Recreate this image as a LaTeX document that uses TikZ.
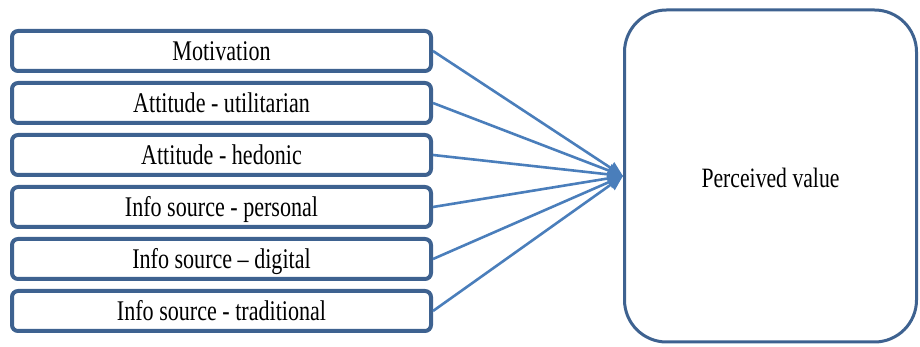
\documentclass[tikz,border=0pt]{standalone}
\usepackage{fontspec}
\setmainfont{Liberation Serif}[FakeStretch=0.775]
\usetikzlibrary{arrows.meta}
\definecolor{boxblue}{HTML}{3E6290}
\definecolor{linkblue}{HTML}{4A7EBB}
\tikzset{
  factor/.style={draw=boxblue, line width=4pt, rounded corners=6pt, fill=white,
    minimum width=419pt, minimum height=40pt, inner sep=0pt,
    text height=19pt, text depth=0pt,
    font=\fontsize{28.5pt}{32pt}\selectfont},
  outcome/.style={draw=boxblue, line width=3pt, rounded corners=42pt, fill=white,
    minimum width=292pt, minimum height=332pt, inner sep=0pt,
    text height=24pt, text depth=0pt,
    font=\fontsize{28pt}{32pt}\selectfont},
  link/.style={draw=linkblue, line width=2.6pt,
    -{Triangle[length=15pt,width=13pt]}}
}
\begin{document}
\begin{tikzpicture}[x=1pt,y=1pt]
  \useasboundingbox (0,0) rectangle (920,347);
  % explanatory factors
  \node[factor] (m)  at (221.5,296) {Motivation};
  \node[factor] (au) at (221.5,244) {Attitude - utilitarian};
  \node[factor] (ah) at (221.5,192) {Attitude - hedonic};
  \node[factor] (ip) at (221.5,140) {Info source - personal};
  \node[factor] (id) at (221.5,88)  {Info source – digital};
  \node[factor] (it) at (221.5,36)  {Info source - traditional};
  % outcome
  \node[outcome] (pv) at (770.5,171) {Perceived value};
  % links
  \foreach \n in {m,au,ah,ip,id,it}
    \draw[link] (\n.east) -- (pv.west);
\end{tikzpicture}
\end{document}
